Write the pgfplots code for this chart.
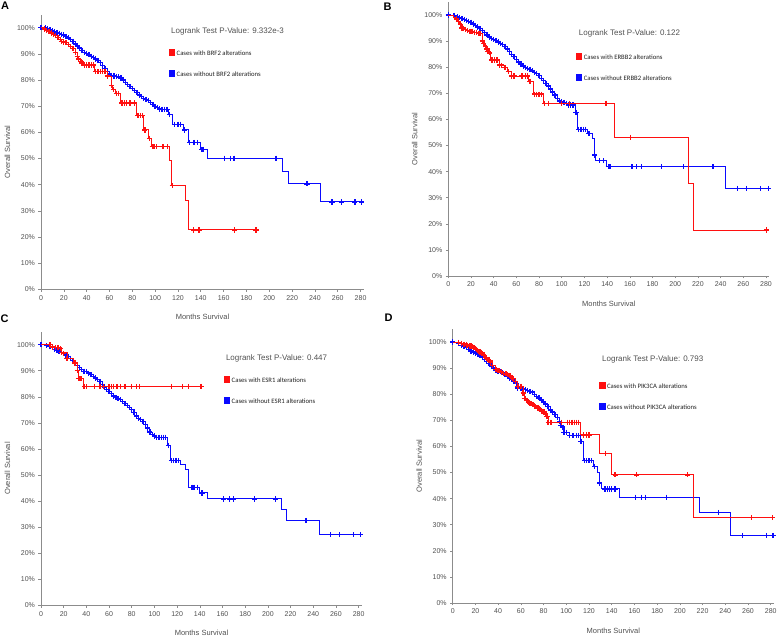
\documentclass[border=0pt]{standalone}
\usepackage{pgfplots}
\usepackage{pgfplotstable}
\pgfplotsset{compat=1.18}
\usepackage{fontspec}
\setmainfont{Liberation Sans}[Color=505050]
\newfontfamily\blackfont{Liberation Sans}[Color=000000]
\newfontfamily\carlito{Carlito}[Color=202020]
\definecolor{axisgray}{HTML}{8C8C8C}
\definecolor{kmred}{HTML}{FF1010}
\definecolor{kmblue}{HTML}{0A0AFF}

% ---------- Panel A data ----------
\pgfplotstableread{
x y
0 100
4 100
6 99.5
8 99.2
10 98.8
12 98.5
14 98.2
16 97.9
18 97.5
20 97.2
22 96.6
24 96.1
26 95.4
28 94.8
30 93.8
32 93
34 92.2
36 91.4
38 90.6
40 90.1
42 89.6
44 89.1
46 88.6
48 88
50 87.4
52 86.6
54 85.6
56 84.5
58 83.2
60 82.3
62 81.8
64 81.5
66 81.3
68 81.2
70 80.8
72 80
74 79
76 78.2
78 77.4
80 76.8
82 76
84 75.1
86 74.3
88 73.6
90 73
92 72.6
94 72.2
96 71.3
98 70.5
100 69.8
102 69.5
104 68.9
106 68.8
110 68.7
112 66.9
115 63.1
125 60.9
129 56.1
140 53.5
146 50.1
212 45
217 40.3
245 33.4
282 33.4
}\blueA
\pgfplotstableread{
x y
0 100
3 99.5
5 99
7 98.5
9 98
11 97.5
13 97
15 96.3
17 95.5
18 94.6
20 94.5
22 94.3
24 93.5
26 92.7
28 92
30 90.5
32 89
33 88
35 87
36 86.5
38 85.7
47 83.2
58 81.5
62 78
63 76.5
65 74.8
70 71.2
84 66.4
90 60.9
94 57.7
97 54.5
113 49.4
114.5 39.6
127 34.1
129.6 22.7
188.3 22.7
}\redA

% ---------- Panel B data ----------
\pgfplotstableread{
x y
0 100
5 99.8
8 99.4
10 99
12 98.6
14 98.3
16 98
18 97.6
20 97.2
22 96.6
24 96
26 95.4
28 94.8
30 94.2
32 93.3
34 92.4
36 91.6
38 91
40 90.6
42 90.2
44 89.7
46 89.2
48 88.6
50 88
52 87
54 86
56 85
58 84
60 83
62 82
64 81.2
66 80.5
68 80
70 79.6
72 79.2
74 78.6
76 78
78 77.5
80 76.8
82 75.8
84 74.8
86 73.8
88 72.8
90 71.6
92 70.5
94 69.3
96 68
98 67
100 66.7
102 66.5
104 66.2
106 65.5
108 65.5
110 65.5
111.9 62.6
114 56.2
123 54.6
127 52.5
128.7 46.4
130 44.2
139.8 41.9
244.7 33.5
282 33.5
}\blueB
\pgfplotstableread{
x y
0 100
5 99
7 98
8 97.5
10 96.8
12 94.9
15 94.5
17 94
20 93.8
22 93.2
28 92.8
30 89.8
32 88.5
34 87
36 85.5
37 82.8
45 80.8
50 79.9
52 78.3
56 76.6
71 74.5
74.9 69.7
83.7 66.2
146.3 53.1
211.5 35.4
216 17.6
281 17.6
}\redB

% ---------- Panel C data ----------
\pgfplotstableread{
x y
0 100
5 99.6
8 99.2
10 98.8
12 98.3
14 97.9
16 97.4
18 97
20 96.5
22 96
24 95.5
26 94.8
28 94
30 93
32 92
34 91.2
36 90.4
38 89.8
40 89.6
42 89.1
44 88.5
46 87.8
48 87.2
50 86.6
52 85.8
54 84.8
56 83.8
58 82.9
60 82.1
62 81.2
64 80.3
66 79.7
68 79.3
70 78.9
72 78.2
74 77.4
76 76.6
78 75.8
80 75.1
82 74
84 72.6
86 71.8
88 71.2
90 70.6
92 69.5
94 68
96 66.5
98 65.5
100 65
102 64.5
104 64.5
106 64.5
108 64.5
110 64.5
111.9 61.4
114 55.5
123 54
127 52
129.8 45.3
140 43.1
146.6 40.8
212 36.6
216.5 32.6
245.3 27.1
282 27.1
}\blueC
\pgfplotstableread{
x y
0 100
8 99.2
12 98.8
18 97
23 94.6
29 93
32 89.8
33 87
37.3 84
141 84
}\redC

% ---------- Panel D data ----------
\pgfplotstableread{
x y
0 100
5 99.5
8 98.8
10 98.3
12 97.8
14 97.2
16 96.6
18 96.2
20 95.8
22 95.2
24 94.7
26 94
28 93.2
30 92.6
32 91.8
34 90.8
36 90
38 89.3
40 88.8
42 88.6
44 88.2
46 87.6
48 86.9
50 86.2
52 85.8
54 85
56 84
57 82.4
60 82.1
62 82
64 81.8
66 81.4
68 81
70 80.8
72 80
74 79.2
76 78.6
78 77.8
80 77
82 76.2
84 75.2
86 74
88 73.2
90 72.2
92 71.2
94 69.6
95 68.1
97 67.4
98 65.4
100 65.4
103 64.2
106 64.2
109 64.2
111 64.2
112.1 61.9
115 54.5
123.9 52.4
127.4 50
129.1 46
131 43.7
146.8 40.5
216.9 34.7
245 25.9
282 25.9
}\blueD
\pgfplotstableread{
x y
0 100
5 99.8
8 99.5
10 99.2
12 98.9
15 98.5
18 98
20 97.4
22 96.9
25 96
28 94.8
30 93.9
32 92.8
35 91
38 89.6
40 89
43 88.5
45 88
48 87.5
50 87.2
53 86
55 85
57 83
62 80.5
63 78.3
65 77.7
68 76.6
70 76.2
72 75.5
75 74.7
78 73.5
80 73.2
83 71.5
84 69.3
112.1 64.4
129.1 57.3
140 49.1
211.9 32.7
281.5 32.7
}\redD

\pgfplotsset{
  kmaxis/.style={
    scale only axis, xmin=0, xmax=283, ymin=0, ymax=105,
    axis x line*=bottom, axis y line*=left,
    axis line style={draw=axisgray, line width=0.9pt, -},
    xtick={0,20,...,280}, ytick={0,10,...,100},
    yticklabel={\pgfmathprintnumber{\tick}\%},
    tick align=outside, major tick length=2.5pt,
    tick style={draw=axisgray, line width=0.6pt},
    ticklabel style={font=\fontsize{7}{8}\selectfont},
    /pgf/number format/assume math mode=true,
    xlabel={Months Survival}, ylabel={Overall Survival},
    label style={font=\fontsize{7.5}{9}\selectfont},
    xlabel style={yshift=-7pt},
    clip=false,
    legend style={draw=none, fill=none, font=\carlito\fontsize{6.7}{8}\selectfont,
      row sep=11pt, inner sep=0pt, cells={anchor=west}},
  },
  kmover/.style={scale only axis, xmin=0, xmax=283, ymin=0, ymax=105,
    hide axis, clip=false},
  redline/.style={const plot, draw=kmred, line width=1pt, no marks, forget plot},
  blueline/.style={const plot, draw=kmblue, line width=1pt, no marks, forget plot},
  redmarks/.style={only marks, mark=+, mark size=2.6pt, draw=kmred,
     mark options={line width=1.3pt}, forget plot},
  bluemarks/.style={only marks, mark=+, mark size=2.6pt, draw=kmblue,
     mark options={line width=1.3pt}, forget plot},
  redkey/.style={legend image code/.code={\fill[kmred] (0pt,-1pt) rectangle (5.5pt,4.5pt);}},
  bluekey/.style={legend image code/.code={\fill[kmblue] (0pt,-1pt) rectangle (5.5pt,4.5pt);}},
}
\begin{document}
\begin{tikzpicture}[x=1pt,y=1pt]
\useasboundingbox (0,0) rectangle (778,636);
\node[font=\blackfont\bfseries\fontsize{11}{12}\selectfont] at (5,630) {A};
\node[font=\blackfont\bfseries\fontsize{11}{12}\selectfont] at (387.5,629.5) {B};
\node[font=\blackfont\bfseries\fontsize{11}{12}\selectfont] at (4.5,317) {C};
\node[font=\blackfont\bfseries\fontsize{11}{12}\selectfont] at (388.5,318.5) {D};

% ================= Panel A =================
\begin{axis}[kmaxis, at={(41pt,346.7pt)}, anchor=south west, width=323pt, height=274.7pt,
  legend style={at={(axis cs:111.8,92)}, anchor=north west}]
\addlegendimage{redkey}\addlegendentry{Cases with BRF2 alterations}
\addlegendimage{bluekey}\addlegendentry{Cases without BRF2 alterations}
\node[anchor=west, font=\fontsize{8}{9}\selectfont] at (axis cs:111,98.4) {Logrank Test P-Value: 9.332e-3};
\end{axis}
\begin{scope}[color=kmblue]
\begin{axis}[kmover, at={(41pt,346.7pt)}, anchor=south west, width=323pt, height=274.7pt]
\addplot[blueline] table {\blueA};
\addplot[bluemarks, mark indices={1,...,54}] table {\blueA};
\addplot[bluemarks] coordinates {
(108,68.8) (111,68.7) (112.5,66.9) (117,63.1) (120,63.1) (122,63.1) (126,60.9) (130,56.1) (134,56.1)
(137,56.1) (140.5,53.5) (142,53.5) (161,50.1) (166,50.1) (169,50.1) (206,50.1) (233,40.3)
(255,33.4) (263,33.4) (275,33.4) (281,33.4)};
\end{axis}
\end{scope}
\begin{scope}[color=kmred]
\begin{axis}[kmover, at={(41pt,346.7pt)}, anchor=south west, width=323pt, height=274.7pt]
\addplot[redline] table {\redA};
\addplot[redmarks, mark indices={2,...,21}] table {\redA};
\addplot[redmarks] coordinates {
(40,85.7) (42,85.7) (44,85.7) (46,85.7) (48,83.2) (50,83.2) (52,83.2) (54,83.2) (56,83.2) (58,81.5)
(62,78) (63.5,76.5) (66,74.8) (68,74.8) (71,71.2) (73,71.2) (75,71.2) (78,71.2) (82,71.2) (85,66.4)
(87,66.4) (89,66.4) (91,60.9) (95,57.7) (97.5,54.5) (99,54.5) (101,54.5) (107,54.5) (111,54.5)
(115,39.6) (133.4,22.7) (138.4,22.7) (169.3,22.7) (188.3,22.7)};
\end{axis}
\end{scope}

% ================= Panel B =================
\begin{axis}[kmaxis, at={(448.3pt,360pt)}, anchor=south west, width=321.1pt, height=274pt,
  legend style={at={(axis cs:112.3,85.6)}, anchor=north west}]
\addlegendimage{redkey}\addlegendentry{Cases with ERBB2 alterations}
\addlegendimage{bluekey}\addlegendentry{Cases without ERBB2 alterations}
\node[anchor=west, font=\fontsize{8}{9}\selectfont] at (axis cs:112,93) {Logrank Test P-Value: 0.122};
\end{axis}
\begin{scope}[color=kmblue]
\begin{axis}[kmover, at={(448.3pt,360pt)}, anchor=south west, width=321.1pt, height=274pt]
\addplot[blueline] table {\blueB};
\addplot[bluemarks, mark indices={1,...,54}] table {\blueB};
\addplot[bluemarks] coordinates {
(112.5,62.6) (115,56.2) (117,56.2) (119,56.2) (121,56.2) (124,54.6) (129,46.4) (133,44.2) (137,44.2)
(141,41.9) (142.5,41.9) (162,41.9) (166,41.9) (170,41.9) (188,41.9) (207,41.9) (233,41.9) (234,41.9)
(255,33.5) (262.6,33.5) (275.3,33.5) (282,33.5)};
\end{axis}
\end{scope}
\begin{scope}[color=kmred]
\begin{axis}[kmover, at={(448.3pt,360pt)}, anchor=south west, width=321.1pt, height=274pt]
\addplot[redline] table {\redB};
\addplot[redmarks] coordinates {
(7,98.5) (9,97.5) (11,96.5) (12,95) (13,94.9) (15,94.5) (17,94) (19,93.8) (21,93.8) (23,93.2)
(25,93.2) (27,92.8) (28,92.8) (30,90) (31,89) (33,88) (34,87) (35,86) (36,85.5) (38,82.8)
(39,82.8) (41,82.8) (43,82.8) (45,80.8) (47,80.8) (50,79.9) (53,78.3) (56,76.6) (58,76.6) (65,76.6)
(68,76.6) (70,76.6) (72,74.5) (76,69.7) (78,69.7) (80,69.7) (82,69.7) (85,66.2) (88,66.2) (100,66.2)
(107,66.2) (139,66.2) (160.7,53.1) (280.5,17.6)};
\end{axis}
\end{scope}

% ================= Panel C =================
\begin{axis}[kmaxis, at={(41pt,30.7pt)}, anchor=south west, width=321pt, height=273.6pt,
  legend style={at={(axis cs:161,88.2)}, anchor=north west}]
\addlegendimage{redkey}\addlegendentry{Cases with ESR1 alterations}
\addlegendimage{bluekey}\addlegendentry{Cases without ESR1 alterations}
\node[anchor=west, font=\fontsize{8}{9}\selectfont] at (axis cs:160,94.9) {Logrank Test P-Value: 0.447};
\end{axis}
\begin{scope}[color=kmblue]
\begin{axis}[kmover, at={(41pt,30.7pt)}, anchor=south west, width=321pt, height=273.6pt]
\addplot[blueline] table {\blueC};
\addplot[bluemarks, mark indices={1,...,54}] table {\blueC};
\addplot[bluemarks] coordinates {
(112.5,61.4) (115,55.5) (117,55.5) (119,55.5) (121,55.5) (133,45.3) (135,45.3) (138,45.3) (142,43.1)
(161,40.8) (166,40.8) (170,40.8) (188,40.8) (207,40.8) (233.5,32.6) (255,27.1) (263,27.1)
(275.5,27.1) (281.5,27.1)};
\end{axis}
\end{scope}
\begin{scope}[color=kmred]
\begin{axis}[kmover, at={(41pt,30.7pt)}, anchor=south west, width=321pt, height=273.6pt]
\addplot[redline] table {\redC};
\addplot[redmarks] coordinates {
(8,100) (10,99) (13,98.8) (15,98.8) (17,98.5) (18,97) (20,96.5) (23,94.6) (30,93) (32,90)
(33,87) (34,87) (35,87) (36,87) (38,84) (40,84) (47,84) (52,84) (55,84) (60,84) (62,84) (64,84)
(67,84) (70,84) (74,84) (80,84) (84,84) (87,84) (115,84) (125,84) (130,84) (141,84)};
\end{axis}
\end{scope}

% ================= Panel D =================
\begin{axis}[kmaxis, at={(452.7pt,33pt)}, anchor=south west, width=321.4pt, height=274pt,
  legend style={at={(axis cs:128.8,84.9)}, anchor=north west}]
\addlegendimage{redkey}\addlegendentry{Cases with PIK3CA alterations}
\addlegendimage{bluekey}\addlegendentry{Cases without PIK3CA alterations}
\node[anchor=west, font=\fontsize{8}{9}\selectfont] at (axis cs:128.5,93.2) {Logrank Test P-Value: 0.793};
\end{axis}
\begin{scope}[color=kmblue]
\begin{axis}[kmover, at={(452.7pt,33pt)}, anchor=south west, width=321.4pt, height=274pt]
\addplot[blueline] table {\blueD};
\addplot[bluemarks, mark indices={1,...,54}] table {\blueD};
\addplot[bluemarks] coordinates {
(113,61.9) (116,54.5) (118,54.5) (120,54.5) (122,54.5) (125,52.4) (129.5,46) (134,43.7) (136,43.7)
(138,43.7) (140,43.7) (143,43.7) (161,40.5) (166,40.5) (170,40.5) (188.5,40.5) (233.9,34.7)
(255,25.9) (276,25.9) (282,25.9)};
\end{axis}
\end{scope}
\begin{scope}[color=kmred]
\begin{axis}[kmover, at={(452.7pt,33pt)}, anchor=south west, width=321.4pt, height=274pt]
\addplot[redline] table {\redD};
\addplot[redmarks, mark indices={2,...,34}] table {\redD};
\addplot[redmarks] coordinates {
(13,98.8) (16,98.5) (17,98.3) (19,97.8) (21,97.2) (23,96.5) (24,96.2) (26,95.5) (27,95) (29,94.2)
(31,93.3) (33,92.3) (41,89) (47,87.8) (51,87) (52,86.5) (58,83) (60,83) (64,78.3) (66,77.7)
(67,77) (69,76.4) (71,76) (73,75.2) (76,74.5) (77,74) (79,73.3) (81,73.2) (82,72.5) (86,69.3)
(87,69.3) (96,69.3) (101,69.3) (103,69.3) (105,69.3) (107,69.3) (109,69.3) (111,69.3) (115,64.4)
(118,64.4) (120,64.4) (134.7,57.3) (143,49.1) (162,49.1) (207,49.1) (263.3,32.7) (281.5,32.7)};
\end{axis}
\end{scope}
\end{tikzpicture}
\end{document}
